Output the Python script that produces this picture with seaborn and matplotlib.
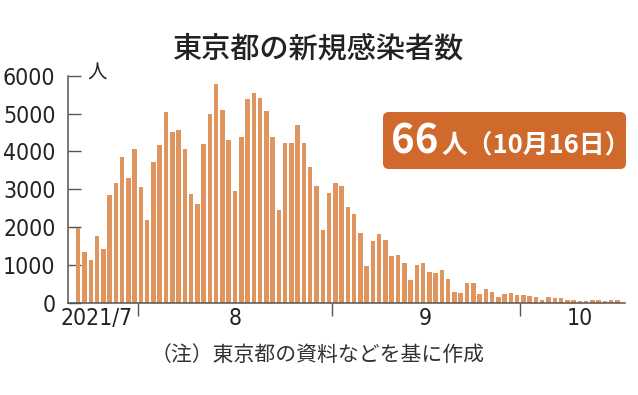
import matplotlib
matplotlib.use('Agg')
import matplotlib.pyplot as plt
from matplotlib.patches import FancyBboxPatch
import seaborn as sns
import pandas as pd

# 東京都の新規感染者数 (2021/7/22 - 10/16)
jul = [1979, 1359, 1128, 1763, 1429, 2848, 3177, 3865, 3300, 4058]
aug = [3058, 2195, 3709, 4166, 5042, 4515, 4566, 4066, 2884, 2612,
       4200, 4989, 5773, 5094, 4295, 2962, 4377, 5386, 5534, 5405,
       5074, 4392, 2447, 4220, 4228, 4704, 4227, 3581, 3081, 1915, 2909]
sep = [3168, 3099, 2539, 2362, 1853, 968, 1629, 1834, 1675, 1242,
       1273, 1067, 611, 1004, 1052, 831, 782, 862, 627, 302,
       253, 537, 531, 235, 382, 302, 154, 248, 267, 218]
oct_ = [200, 196, 161, 87, 149, 144, 138, 82, 82, 60, 49, 77, 77, 62, 72, 66]

month_labels = ['2021/7', '8', '9', '10']
y_ticks = [0, 1000, 2000, 3000, 4000, 5000, 6000]

dates = pd.date_range('2021-07-22', '2021-10-16', freq='D')
df = pd.DataFrame({'date': dates.strftime('%m/%d'), 'cases': jul + aug + sep + oct_})

sns.set_style('ticks')
plt.rcParams['font.family'] = ['Noto Sans CJK JP', 'DejaVu Sans']

fig = plt.figure(figsize=(6.38, 3.95), dpi=100)
ax = fig.add_axes([68/638, 1-303/395, (625-68)/638, (303-75.7)/395])

sns.barplot(data=df, x='date', y='cases', color='#E0955E', saturation=1,
            width=0.72, linewidth=0, ax=ax)

ax.set_ylim(0, 6000)
ax.set_xlim(-1.63, 87.2)
ax.set_xlabel('')
ax.set_ylabel('')

# 月の境目に目盛り、ラベルは月の中ほど
n_jul, n_aug, n_sep = len(jul), len(aug), len(sep)
bounds = [n_jul - 0.5, n_jul + n_aug - 0.5, n_jul + n_aug + n_sep - 0.5]
ax.set_xticks(bounds)
ax.set_xticklabels([])
ax.set_xticks([3.0, 25, 55.3, 80], minor=True)
ax.set_xticklabels(month_labels, minor=True)
ax.tick_params(axis='x', which='major', direction='out', length=9, width=1, color='#555555')
ax.tick_params(axis='x', which='minor', length=0, pad=3)

ax.set_yticks(y_ticks)
ax.set_yticklabels([str(v) for v in y_ticks])
ax.tick_params(axis='y', direction='in', length=9, width=1, color='#555555', pad=9)

for lab in ax.get_yticklabels() + ax.get_xticklabels(minor=True):
    lab.set_family('DejaVu Sans')
    lab.set_stretch('condensed')
    lab.set_fontsize(16.5)
    lab.set_color('#222222')

sns.despine(ax=ax)
for s in ['left', 'bottom']:
    ax.spines[s].set_color('#555555')
    ax.spines[s].set_linewidth(1.1)
ax.set_axisbelow(True)

fig.text(97/638, 1-73/395, '人', fontsize=14, ha='center', va='center', color='#222222')

fig.text(0.5, 1-49/395, '東京都の新規感染者数', fontsize=21, fontweight='medium',
         ha='center', va='center', color='#222222')

fig.text(318/638, 1-355/395, '（注）東京都の資料などを基に作成', fontsize=15,
         ha='center', va='center', color='#333333')

badge = FancyBboxPatch((383/638, 1-169/395), (626-383)/638, (169-112)/395,
                       boxstyle='round,pad=0,rounding_size=0.009',
                       mutation_aspect=638/395, transform=fig.transFigure,
                       facecolor='#CF6A2C', edgecolor='none')
fig.patches.append(badge)
fig.text(391/638, 1-153/395, '66', fontsize=29, fontweight='bold', color='white',
         ha='left', va='baseline')
fig.text(441/638, 1-152/395, '人（10月16日）', fontsize=18.5, fontweight='bold',
         color='white', ha='left', va='baseline')

fig.savefig('out.png', dpi=100)
